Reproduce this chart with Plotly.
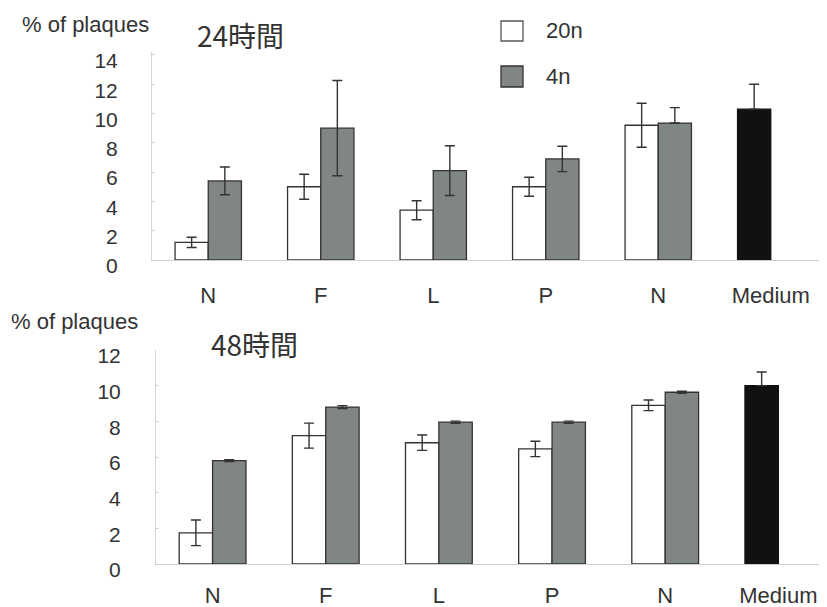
import plotly.graph_objects as go

categories = ["N", "F", "L", "P", "N", "Medium"]
x_pos = [0, 1, 2, 3, 4]

# 24 hours
h24_20n = [1.2, 5.0, 3.4, 5.0, 9.2]
h24_20n_err = [0.35, 0.85, 0.65, 0.65, 1.5]
h24_4n = [5.4, 9.0, 6.1, 6.9, 9.35]
h24_4n_err = [0.95, 3.25, 1.7, 0.87, 1.05]
h24_4n_err_minus = [0.95, 3.25, 1.7, 0.87, 0.0]
h24_medium = [10.3]
h24_medium_err = [1.7]

# 48 hours
h48_20n = [1.75, 7.2, 6.8, 6.45, 8.9]
h48_20n_err = [0.72, 0.7, 0.43, 0.43, 0.3]
h48_4n = [5.8, 8.8, 7.95, 7.95, 9.63]
h48_4n_err = [0.05, 0.08, 0.06, 0.06, 0.06]
h48_medium = [10.0]
h48_medium_err = [0.77]

OFF = 8  # page body margin
W, H = 827 - OFF, 607 - OFF
FONT = "Liberation Sans, Arial, sans-serif"
CJK = "Noto Sans CJK JP"
TXT = "#333333"
EDGE = "#333333"
GRAY = "#7f8684"

def px(x):
    return (x - OFF) / W

def py(y):
    return 1 - (y - OFF) / H

fig = go.Figure()

def add_panel(v20, e20, v4, e4p, e4m, vm, em, xa, ya):
    err_style = dict(type="data", color=EDGE, thickness=1.4, width=5)
    fig.add_trace(go.Bar(x=x_pos, y=v20, offsetgroup="a", xaxis=xa, yaxis=ya,
                         marker=dict(color="white", line=dict(color=EDGE, width=1.3)),
                         error_y=dict(array=e20, **err_style), showlegend=False))
    fig.add_trace(go.Bar(x=x_pos, y=v4, offsetgroup="b", xaxis=xa, yaxis=ya,
                         marker=dict(color=GRAY, line=dict(color=EDGE, width=1.3)),
                         error_y=dict(array=e4p, arrayminus=e4m, **err_style), showlegend=False))
    fig.add_trace(go.Bar(x=[5], y=vm, offsetgroup="a", xaxis=xa, yaxis=ya,
                         marker=dict(color="#111111", line=dict(color="#111111", width=1.3)),
                         error_y=dict(array=em, arrayminus=[0], **err_style), showlegend=False))

add_panel(h24_20n, h24_20n_err, h24_4n, h24_4n_err, h24_4n_err_minus,
          h24_medium, h24_medium_err, "x", "y")
add_panel(h48_20n, h48_20n_err, h48_4n, h48_4n_err, h48_4n_err,
          h48_medium, h48_medium_err, "x2", "y2")

xcommon = dict(tickmode="array", tickvals=list(range(6)), ticktext=categories,
               showgrid=False, zeroline=False, showline=True, linecolor="#cfcfcf",
               linewidth=1, ticks="", tickfont=dict(family=FONT, size=22, color=TXT),
               automargin=False)
ycommon = dict(showgrid=False, zeroline=False, showline=True, linecolor="#d5d5d5",
               linewidth=1, ticks="inside", ticklen=3, tickcolor="#d5d5d5",
               tickfont=dict(family=FONT, size=21, color=TXT), automargin=False,
               dtick=2, ticklabelshift=6)

fig.update_layout(
    width=W, height=H,
    margin=dict(l=0, r=0, t=0, b=0),
    paper_bgcolor="white", plot_bgcolor="white",
    barmode="group", bargap=0.41, bargroupgap=0,
    xaxis=dict(domain=[px(152), 1], range=[-0.5, 5.5], anchor="y",
               ticklabelstandoff=16, **xcommon),
    yaxis=dict(domain=[py(260), py(52)], range=[0, 14.2], anchor="x",
               ticklabelstandoff=29, **ycommon),
    xaxis2=dict(domain=[px(156), 1], range=[-0.5, 5.43], anchor="y2",
                ticklabelstandoff=12, **xcommon),
    yaxis2=dict(domain=[py(564), py(350)], range=[0, 12], anchor="x2",
                ticklabelstandoff=30, **ycommon),
)

# legend (drawn manually)
fig.add_shape(type="rect", xref="paper", yref="paper",
              x0=px(501), x1=px(523), y0=py(41), y1=py(21),
              fillcolor="white", line=dict(color="#555555", width=1.3))
fig.add_shape(type="rect", xref="paper", yref="paper",
              x0=px(501), x1=px(523), y0=py(87), y1=py(66),
              fillcolor=GRAY, line=dict(color=EDGE, width=1.3))

annots = [
    dict(text="20n", x=px(544), y=py(31), xanchor="left", size=22, fam=FONT),
    dict(text="4n", x=px(544), y=py(76), xanchor="left", size=22, fam=FONT),
    dict(text="% of plaques", x=px(20), y=py(24), xanchor="left", size=22, fam=FONT),
    dict(text="24時間", x=px(195), y=py(35), xanchor="left", size=28, fam=CJK),
    dict(text="% of plaques", x=px(9), y=py(321), xanchor="left", size=22, fam=FONT),
    dict(text="48時間", x=px(209), y=py(344), xanchor="left", size=28, fam=CJK),
]
for a in annots:
    fig.add_annotation(text=a["text"], x=a["x"], y=a["y"], xref="paper", yref="paper",
                       xanchor=a["xanchor"], yanchor="middle", showarrow=False,
                       font=dict(family=a["fam"], size=a["size"], color=TXT))

fig.write_html("out.html")
